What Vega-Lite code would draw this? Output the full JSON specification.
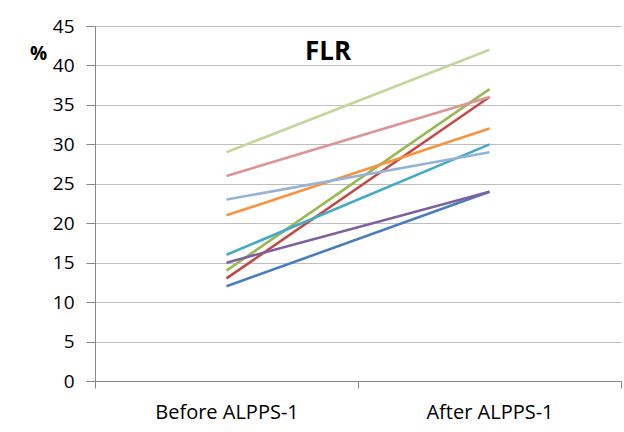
{
  "$schema": "https://vega.github.io/schema/vega-lite/v6.json",
  "autosize": "none",
  "width": 526,
  "height": 355,
  "padding": {"left": 95, "top": 26, "right": 3, "bottom": 51},
  "background": "white",
  "config": {"view": {"stroke": null}, "font": "Open Sans"},
  "title": {"text": "FLR", "fontSize": 26, "fontWeight": "bold", "font": "Open Sans", "color": "#000000", "anchor": "middle", "offset": -48, "dx": -30},
  "data": {"values": [
    {"series": "s1", "stage": "Before ALPPS-1", "value": 12},
    {"series": "s1", "stage": "After ALPPS-1", "value": 24},
    {"series": "s2", "stage": "Before ALPPS-1", "value": 13},
    {"series": "s2", "stage": "After ALPPS-1", "value": 36},
    {"series": "s3", "stage": "Before ALPPS-1", "value": 14},
    {"series": "s3", "stage": "After ALPPS-1", "value": 37},
    {"series": "s4", "stage": "Before ALPPS-1", "value": 15},
    {"series": "s4", "stage": "After ALPPS-1", "value": 24},
    {"series": "s5", "stage": "Before ALPPS-1", "value": 16},
    {"series": "s5", "stage": "After ALPPS-1", "value": 30},
    {"series": "s6", "stage": "Before ALPPS-1", "value": 21},
    {"series": "s6", "stage": "After ALPPS-1", "value": 32},
    {"series": "s7", "stage": "Before ALPPS-1", "value": 23},
    {"series": "s7", "stage": "After ALPPS-1", "value": 29},
    {"series": "s8", "stage": "Before ALPPS-1", "value": 26},
    {"series": "s8", "stage": "After ALPPS-1", "value": 36},
    {"series": "s9", "stage": "Before ALPPS-1", "value": 29},
    {"series": "s9", "stage": "After ALPPS-1", "value": 42}
  ]},
  "mark": {"type": "line", "strokeWidth": 2.6},
  "encoding": {
    "x": {
      "field": "stage", "type": "nominal", "sort": ["Before ALPPS-1", "After ALPPS-1"],
      "scale": {"paddingInner": 0, "paddingOuter": 0},
      "axis": {"title": null, "labelAngle": 0, "tickBand": "extent", "tickSize": 7, "tickColor": "#868686", "domainColor": "#868686", "labelFontSize": 20, "labelColor": "#000000", "labelPadding": 14, "grid": false, "labelFont": "Open Sans"}
    },
    "y": {
      "field": "value", "type": "quantitative",
      "scale": {"domain": [0, 45], "nice": false},
      "axis": {"values": [0, 5, 10, 15, 20, 25, 30, 35, 40, 45], "title": "%", "titleAngle": 0, "titleX": -57, "titleY": 27, "titleFontSize": 19, "titleFontWeight": "bold", "titleFont": "Open Sans", "titleColor": "#000000", "titleAlign": "center", "titleBaseline": "middle", "tickSize": 9, "tickColor": "#868686", "domainColor": "#868686", "gridColor": "#BEBEBE", "labelFontSize": 19, "labelColor": "#000000", "labelPadding": 12, "labelFont": "Open Sans"}
    },
    "color": {
      "field": "series", "type": "nominal", "legend": null,
      "scale": {"domain": ["s1","s2","s3","s4","s5","s6","s7","s8","s9"], "range": ["#4A7EBB", "#BE4B48", "#98B954", "#7D60A0", "#46AAC5", "#F69240", "#95B3D7", "#D99694", "#C3D69B"]}
    }
  }
}
